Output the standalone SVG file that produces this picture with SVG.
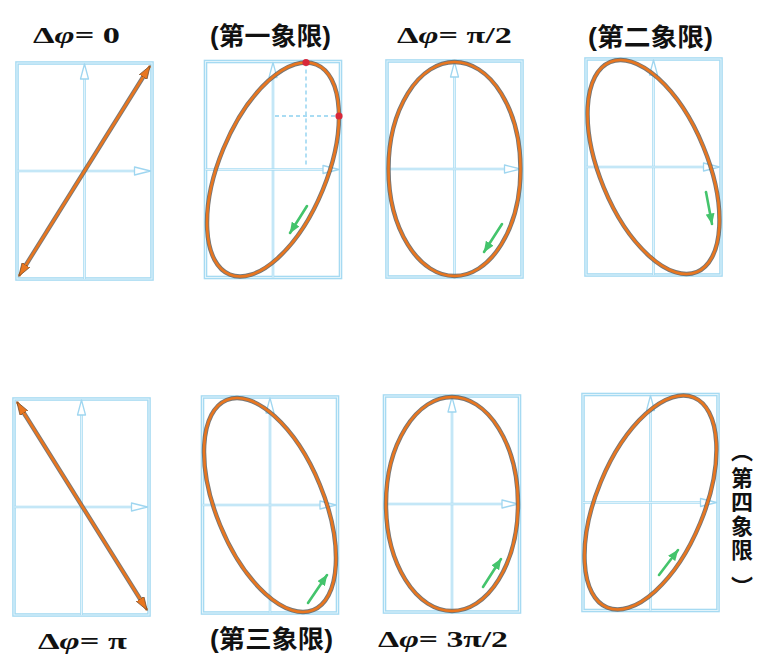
<svg xmlns="http://www.w3.org/2000/svg" xmlns:xlink="http://www.w3.org/1999/xlink" width="759" height="654" viewBox="0 0 759 654">
<style>
.bg{fill:#ffffff}
.frameO{fill:none;stroke:#A6DAF2;stroke-width:3.6}
.frameI{fill:none;stroke:#E2F4FB;stroke-width:1}
.axO{fill:none;stroke:#A9DCF3;stroke-width:2.6}
.axI{fill:none;stroke:#EEF8FD;stroke-width:0.8}
.axHead{fill:#ffffff;stroke:#9FD6F0;stroke-width:1.3;stroke-linejoin:round}
.under{fill:none;stroke:#5E5E5E;stroke-width:4.4;stroke-opacity:0.85}
.over{fill:none;stroke:#E9761F;stroke-width:2.6}
.green{fill:none;stroke:#44C46C;stroke-width:2.6;stroke-linecap:round}
.dash{fill:none;stroke:#A9DCF3;stroke-width:1.8;stroke-dasharray:4 3}
.dot{fill:#D8283A}
.math{font-family:"Liberation Serif","DejaVu Serif",serif;font-weight:bold;font-size:23px;fill:#111111}
.cjk{font-family:"Liberation Sans","Noto Sans CJK SC",sans-serif;font-weight:bold;font-size:25px;fill:#111111}
.vp{font-family:"Noto Sans CJK SC",sans-serif;font-weight:bold;font-size:22px;fill:#111111;text-anchor:middle;dominant-baseline:central}
.vert{font-family:"Noto Sans CJK SC",sans-serif;font-weight:bold;font-size:22px;fill:#111111;writing-mode:vertical-rl;letter-spacing:2px}
</style>
<defs>
<marker id="oHead" viewBox="0 0 14 10" refX="13" refY="5" markerWidth="14" markerHeight="10" markerUnits="userSpaceOnUse" orient="auto-start-reverse">
<path d="M0,0.5 L13.5,5 L0,9.5 Z" fill="#E9761F" stroke="#6A4A30" stroke-width="0.7"/>
</marker>
<marker id="gHead" viewBox="0 0 11 9" refX="10.5" refY="4.5" markerWidth="11" markerHeight="9" markerUnits="userSpaceOnUse" orient="auto">
<path d="M0,0 L11,4.5 L0,9 Z" fill="#44C46C"/>
</marker>
<g id="axes">
<rect class="frameO" x="-67.5" y="-108" width="135" height="216"/>
<rect class="frameI" x="-67.5" y="-108" width="135" height="216"/>
<line class="axO" x1="0" y1="108" x2="0" y2="-93"/>
<line class="axI" x1="0" y1="108" x2="0" y2="-93"/>
<line class="axO" x1="-67.5" y1="0" x2="51" y2="0"/>
<line class="axI" x1="-67.5" y1="0" x2="51" y2="0"/>
<path class="axHead" d="M0,-107 L-4,-92 L4,-92 Z"/>
<path class="axHead" d="M66,0 L50,-4 L50,4 Z"/>
</g>
<ellipse id="ellU" cx="0" cy="0" rx="66" ry="107"/>
<ellipse id="ellR" cx="0" cy="0" rx="53.8" ry="113.6" transform="rotate(22.4)"/>
<ellipse id="ellL" cx="0" cy="0" rx="53.8" ry="113.6" transform="rotate(-22.4)"/>
</defs>
<rect class="bg" x="0" y="0" width="759" height="654"/>

<g id="panel-dphi-0" transform="translate(84.5,171)">
<use xlink:href="#axes" href="#axes"/>
<line class="under" x1="-60.2" y1="96.5" x2="60.2" y2="-96.5"/>
<line class="over" x1="-65.5" y1="105" x2="65.5" y2="-105" marker-start="url(#oHead)" marker-end="url(#oHead)"/>
</g>

<g id="panel-q1" transform="translate(273,169.5)">
<use xlink:href="#axes" href="#axes"/>
<line class="dash" x1="33" y1="-107" x2="33" y2="-4"/>
<line class="dash" x1="2" y1="-53.5" x2="66" y2="-53.5"/>
<use class="under" xlink:href="#ellR" href="#ellR"/>
<use class="over" xlink:href="#ellR" href="#ellR"/>
<circle class="dot" cx="33" cy="-107" r="3.6"/>
<circle class="dot" cx="66" cy="-53.5" r="3.6"/>
<line class="green" x1="34" y1="36.5" x2="17" y2="63.5" marker-end="url(#gHead)"/>
</g>

<g id="panel-dphi-pi2" transform="translate(454.5,169)">
<use xlink:href="#axes" href="#axes"/>
<use class="under" xlink:href="#ellU" href="#ellU"/>
<use class="over" xlink:href="#ellU" href="#ellU"/>
<line class="green" x1="47.5" y1="55" x2="29.5" y2="83" marker-end="url(#gHead)"/>
</g>

<g id="panel-q2" transform="translate(653.5,167)">
<use xlink:href="#axes" href="#axes"/>
<use class="under" xlink:href="#ellL" href="#ellL"/>
<use class="over" xlink:href="#ellL" href="#ellL"/>
<line class="green" x1="52.5" y1="25" x2="58.5" y2="57" marker-end="url(#gHead)"/>
</g>

<g id="panel-dphi-pi" transform="translate(81.5,507)">
<use xlink:href="#axes" href="#axes"/>
<line class="under" x1="-59.2" y1="-96.5" x2="60.2" y2="94.5"/>
<line class="over" x1="-64.5" y1="-105" x2="65.5" y2="103" marker-start="url(#oHead)" marker-end="url(#oHead)"/>
</g>

<g id="panel-q3" transform="translate(270,505)">
<use xlink:href="#axes" href="#axes"/>
<use class="under" xlink:href="#ellL" href="#ellL"/>
<use class="over" xlink:href="#ellL" href="#ellL"/>
<line class="green" x1="38" y1="98" x2="57" y2="70" marker-end="url(#gHead)"/>
</g>

<g id="panel-dphi-3pi2" transform="translate(452,504)">
<use xlink:href="#axes" href="#axes"/>
<use class="under" xlink:href="#ellU" href="#ellU"/>
<use class="over" xlink:href="#ellU" href="#ellU"/>
<line class="green" x1="31" y1="83" x2="49" y2="55" marker-end="url(#gHead)"/>
</g>

<g id="panel-q4" transform="translate(650.5,502.5)">
<use xlink:href="#axes" href="#axes"/>
<use class="under" xlink:href="#ellR" href="#ellR"/>
<use class="over" xlink:href="#ellR" href="#ellR"/>
<line class="green" x1="8.5" y1="72.5" x2="27.5" y2="47.5" marker-end="url(#gHead)"/>
</g>

<g id="labels">
<text class="math" x="33" y="43" textLength="87" lengthAdjust="spacingAndGlyphs">Δ<tspan font-style="italic">φ</tspan>= 0</text>
<text class="cjk" x="210" y="45" textLength="121" lengthAdjust="spacingAndGlyphs">(第一象限)</text>
<text class="math" x="397" y="43" textLength="115" lengthAdjust="spacingAndGlyphs">Δ<tspan font-style="italic">φ</tspan>= π/2</text>
<text class="cjk" x="588" y="46" textLength="125" lengthAdjust="spacingAndGlyphs">(第二象限)</text>
<text class="math" x="38" y="649" textLength="89" lengthAdjust="spacingAndGlyphs">Δ<tspan font-style="italic">φ</tspan>= π</text>
<text class="cjk" x="210" y="648" textLength="123" lengthAdjust="spacingAndGlyphs">(第三象限)</text>
<text class="math" x="378" y="647" textLength="130" lengthAdjust="spacingAndGlyphs">Δ<tspan font-style="italic">φ</tspan>= 3π/2</text>
<text class="vp" x="742" y="449">︵</text>
<text class="vert" x="742" y="467">第四象限</text>
<text class="vp" x="742" y="585">︶</text>
</g>
</svg>
